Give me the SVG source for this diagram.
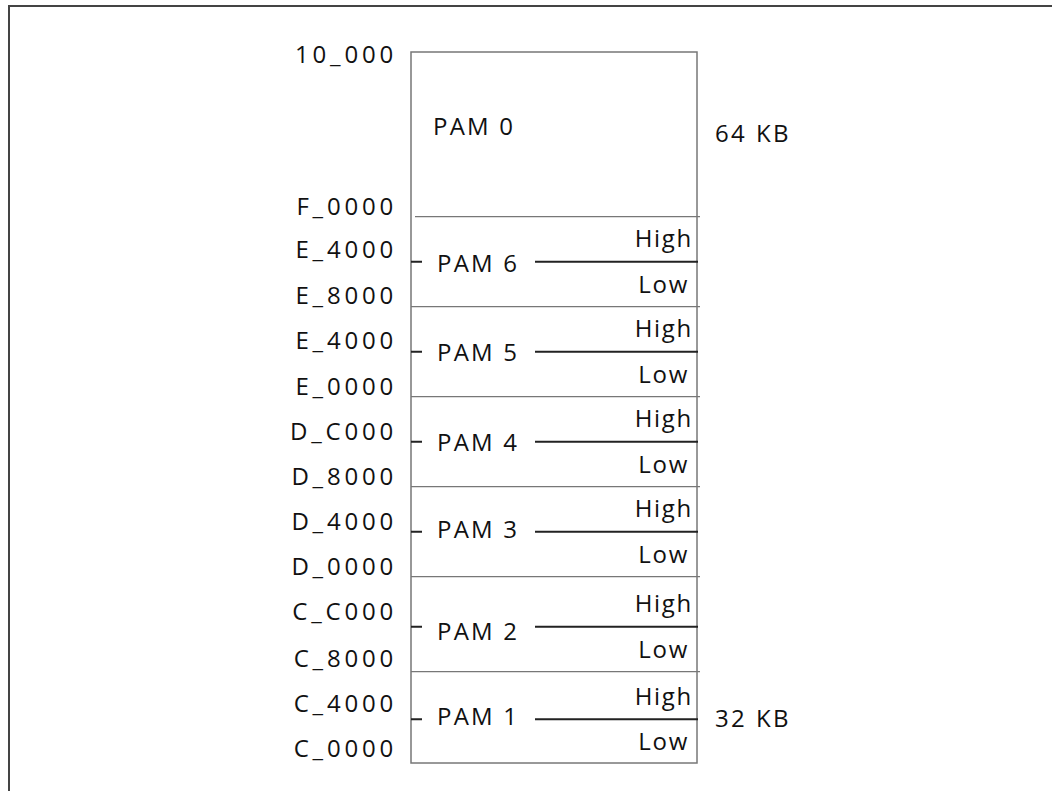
<svg xmlns="http://www.w3.org/2000/svg" width="1052" height="791" viewBox="0 0 1052 791">
<style>
.t{font-family:"Open Sans","DejaVu Sans",sans-serif;font-size:24px;letter-spacing:2.2px;fill:#111}
.a{letter-spacing:3.8px}
.h{letter-spacing:1.7px}
.k{letter-spacing:2.4px}
.r{text-anchor:end}
.sep{stroke:#777;stroke-width:1.3;fill:none}
.div{stroke:#222;stroke-width:2;fill:none}
</style>
<rect width="1052" height="791" fill="#fff"/>
<path d="M9,791 V6 H1052" fill="none" stroke="#444" stroke-width="2"/>
<g id="memory-box">
<rect x="411" y="52" width="286" height="711" fill="none" stroke="#777" stroke-width="1.5"/>
</g>
<g id="connectors">
<path class="sep" d="M415,216.7 H700 M411,306.7 H700 M411,396.7 H700 M411,486.7 H700 M411,576.7 H700 M411,671.7 H700"/>
<path class="div" d="M411,261.7 H422 M535,261.7 H698 M411,351.7 H422 M535,351.7 H698 M411,441.7 H422 M535,441.7 H698 M411,531.7 H422 M535,531.7 H698 M411,626.7 H422 M535,626.7 H698 M411,719.3 H422 M535,719.3 H698"/>
</g>
<g id="addresses" class="t a r">
<text x="397" y="63">10_000</text>
<text x="397" y="215">F_0000</text>
<text x="397" y="258">E_4000</text>
<text x="397" y="304">E_8000</text>
<text x="397" y="349">E_4000</text>
<text x="397" y="395">E_0000</text>
<text x="397" y="440">D_C000</text>
<text x="397" y="485">D_8000</text>
<text x="397" y="530">D_4000</text>
<text x="397" y="575">D_0000</text>
<text x="397" y="620">C_C000</text>
<text x="397" y="667">C_8000</text>
<text x="397" y="712">C_4000</text>
<text x="397" y="757">C_0000</text>
</g>
<g id="pam0"><text class="t" x="433" y="135">PAM 0</text></g>
<g id="pam6"><text class="t" x="437" y="272">PAM 6</text><text class="t h r" x="693" y="247">High</text><text class="t h r" x="689" y="293">Low</text></g>
<g id="pam5"><text class="t" x="437" y="361">PAM 5</text><text class="t h r" x="693" y="337">High</text><text class="t h r" x="689" y="383">Low</text></g>
<g id="pam4"><text class="t" x="437" y="451">PAM 4</text><text class="t h r" x="693" y="427">High</text><text class="t h r" x="689" y="473">Low</text></g>
<g id="pam3"><text class="t" x="437" y="538">PAM 3</text><text class="t h r" x="693" y="517">High</text><text class="t h r" x="689" y="563">Low</text></g>
<g id="pam2"><text class="t" x="437" y="640">PAM 2</text><text class="t h r" x="693" y="612">High</text><text class="t h r" x="689" y="658">Low</text></g>
<g id="pam1"><text class="t" x="437" y="725">PAM 1</text><text class="t h r" x="693" y="705">High</text><text class="t h r" x="689" y="750">Low</text></g>
<g id="sizes">
<text class="t k" x="715" y="142">64 KB</text>
<text class="t k" x="715" y="727">32 KB</text>
</g>
</svg>
